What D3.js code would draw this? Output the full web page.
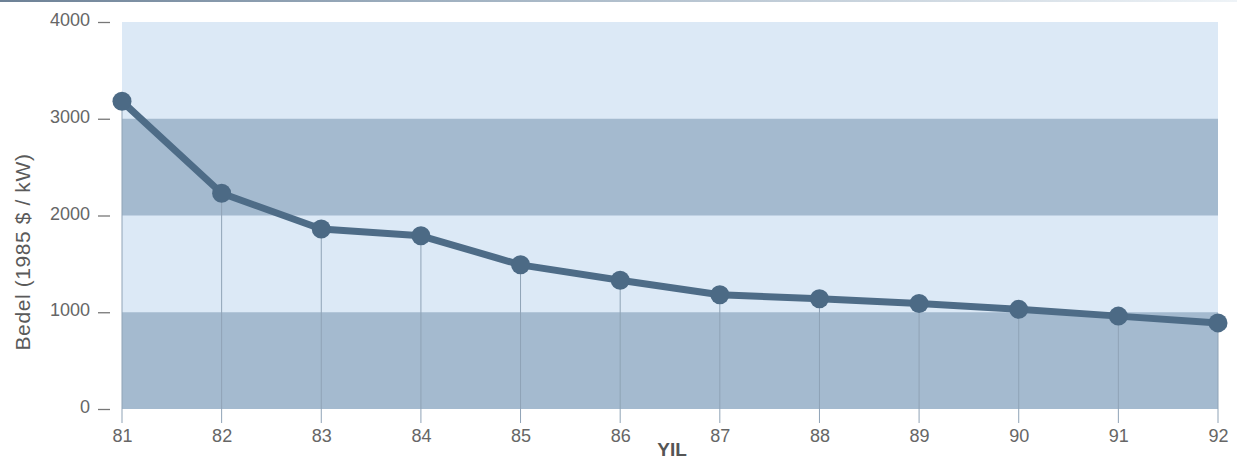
<!DOCTYPE html>
<html>
<head>
<meta charset="utf-8">
<script src="https://cdn.jsdelivr.net/npm/d3@7/dist/d3.min.js"></script>
<style>
  html, body { margin: 0; padding: 0; background: #ffffff; }
  svg { display: block; }
</style>
</head>
<body>
<svg id="chart" width="1237" height="462"></svg>
<script>
// Cost per kW (1985 dollars) by year
const years = ["81", "82", "83", "84", "85", "86", "87", "88", "89", "90", "91", "92"];
const costs = [3180, 2230, 1860, 1790, 1490, 1330, 1180, 1140, 1090, 1030, 960, 890];
const yTicks = [0, 1000, 2000, 3000, 4000];
// Alternating background bands [from, to]
const darkBands = [[2000, 3000], [0, 1000]];

const svg = d3.select("#chart");
const plotLeft = 122, plotRight = 1218, plotTop = 22, plotBottom = 409;
const font = "Liberation Sans, Arial, sans-serif";

const x = d3.scalePoint().domain(years).range([plotLeft, plotRight]);
const y = d3.scaleLinear().domain([0, 4000]).range([plotBottom, plotTop]);

// thin rule across the top edge
const grad = svg.append("defs").append("linearGradient").attr("id", "topRule");
grad.append("stop").attr("offset", "0%").attr("stop-color", "#6d8196");
grad.append("stop").attr("offset", "35%").attr("stop-color", "#9fb0c0");
grad.append("stop").attr("offset", "100%").attr("stop-color", "#eef3f7");
svg.append("rect").attr("x", 0).attr("y", 0).attr("width", 1237).attr("height", 2)
  .attr("fill", "url(#topRule)");

// light plot background
svg.append("rect")
  .attr("x", plotLeft).attr("y", y(4000))
  .attr("width", plotRight - plotLeft).attr("height", y(0) - y(4000))
  .attr("fill", "#dce9f6");

// darker bands
svg.selectAll("rect.band").data(darkBands).join("rect")
  .attr("class", "band")
  .attr("x", plotLeft).attr("y", d => y(d[1]))
  .attr("width", plotRight - plotLeft).attr("height", d => y(d[0]) - y(d[1]))
  .attr("fill", "#a4bacf");

// y axis: short dashes and labels
const yAxis = d3.axisLeft(y).tickValues(yTicks).tickSize(12).tickPadding(8).tickFormat(d3.format("d"));
const gy = svg.append("g").attr("transform", `translate(${plotLeft - 12},0)`).call(yAxis);
gy.select(".domain").remove();
gy.selectAll(".tick line").attr("stroke", "#777").attr("stroke-width", 1.3);
gy.selectAll(".tick text").attr("fill", "#666").attr("font-size", 18)
  .attr("dy", "0.2em")
  .attr("font-family", font);

// drop lines from each point to the x axis labels
svg.selectAll("line.drop").data(years).join("line")
  .attr("class", "drop")
  .attr("x1", d => x(d)).attr("x2", d => x(d))
  .attr("y1", (d, i) => y(costs[i])).attr("y2", plotBottom + 14)
  .attr("stroke", "#8fa3b6").attr("stroke-width", 1);

// x axis labels
const xAxis = d3.axisBottom(x).tickSize(0).tickPadding(20);
const gx = svg.append("g").attr("transform", `translate(0,${plotBottom})`).call(xAxis);
gx.select(".domain").remove();
gx.selectAll(".tick text").attr("fill", "#666").attr("font-size", 18)
  .attr("font-family", font);

// cost line
const line = d3.line().x((d, i) => x(years[i])).y(d => y(d));
svg.append("path").datum(costs)
  .attr("d", line)
  .attr("fill", "none")
  .attr("stroke", "#4e6c87")
  .attr("stroke-width", 7)
  .attr("stroke-linejoin", "round");

svg.selectAll("circle.pt").data(costs).join("circle")
  .attr("class", "pt")
  .attr("cx", (d, i) => x(years[i])).attr("cy", d => y(d))
  .attr("r", 9.5)
  .attr("fill", "#4c6a85");

// axis titles
svg.append("text")
  .attr("transform", `translate(30,252) rotate(-90)`)
  .attr("text-anchor", "middle")
  .attr("font-size", 21)
  .attr("letter-spacing", 0.6)
  .attr("font-family", font)
  .attr("fill", "#5a5a5a")
  .text("Bedel (1985 $ / kW)");

svg.append("text")
  .attr("x", 672).attr("y", 456)
  .attr("text-anchor", "middle")
  .attr("font-size", 19)
  .attr("font-weight", "bold")
  .attr("font-family", font)
  .attr("fill", "#555")
  .text("YIL");
</script>
</body>
</html>
